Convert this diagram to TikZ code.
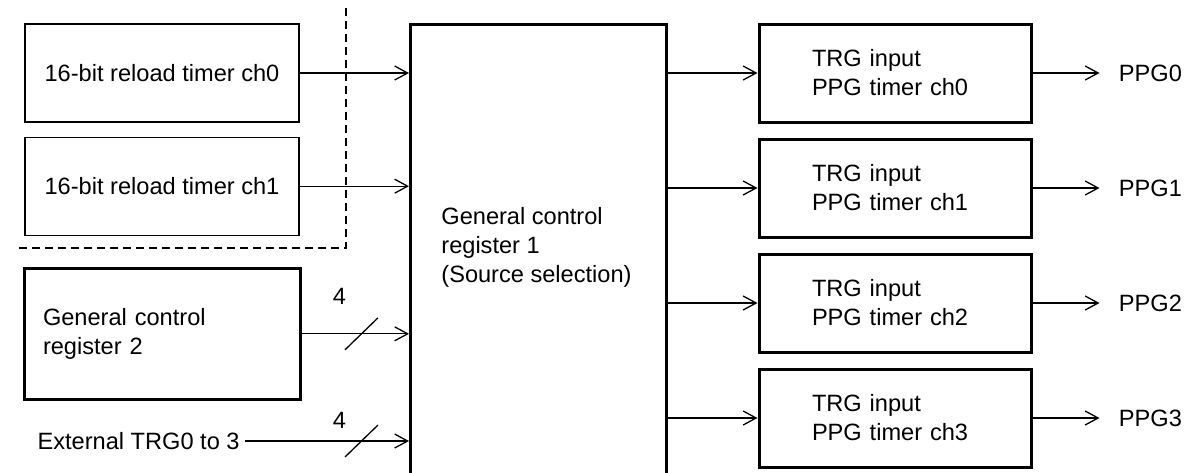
\documentclass[tikz,border=0pt]{standalone}
\usepackage{fontspec}
\setmainfont{Liberation Sans}
\usetikzlibrary{positioning, arrows.meta, calc}

\begin{document}
\begin{tikzpicture}[
    x=0.5pt, y=-0.5pt,
    >={Straight Barb[length=6.5pt, width=7pt]},
    every node/.style={font=\fontsize{11.8}{14.5}\selectfont},
    timer/.style={
      rectangle, draw, line width=0.6pt,
      minimum width=137pt, minimum height=49pt, inner sep=0pt
    },
    regbox/.style={
      rectangle, draw, line width=1.5pt, align=left
    },
    ppgbox/.style={
      rectangle, draw, line width=1.5pt, align=left,
      text width=83pt, inner xsep=26.5pt, minimum height=49pt
    },
    arr/.style={->, line width=0.65pt},
    bus/.style={line width=0.65pt},
    dashsep/.style={line width=0.65pt, dash pattern=on 4pt off 2.5pt},
  ]
  \useasboundingbox (0,0) rectangle (1190,472);

  % ============ LEFT: Sources ============
  \node[timer]                    (rt0) at (162,73) {16-bit reload timer ch0};
  \node[timer, below=7pt of rt0]  (rt1) {16-bit reload timer ch1};
  \node[regbox, text width=119pt, inner xsep=9.5pt, minimum height=65.5pt,
        below=15.5pt of rt1] (gcr2) {General control\\register 2};
  \node[anchor=east, inner xsep=2.5pt, inner ysep=0pt] (ext) at (245,441)
    {External TRG0 to 3};

  % ============ CENTER: General control register 1 ============
  \node[regbox, minimum width=128pt, minimum height=240pt, anchor=north west]
    (gcr1) at (409,23) {};
  \node[anchor=west, align=left, inner sep=0pt] (gcr1txt) at (441,247)
    {General control\\register 1\\(Source selection)};

  % ============ RIGHT: PPG timers ============
  \node[ppgbox]                  (tp0) at (895,73) {TRG input\\PPG timer ch0};
  \node[ppgbox, below=7pt of tp0] (tp1) {TRG input\\PPG timer ch1};
  \node[ppgbox, below=7pt of tp1] (tp2) {TRG input\\PPG timer ch2};
  \node[ppgbox, below=7pt of tp2] (tp3) {TRG input\\PPG timer ch3};

  % ============ Separator ============
  \draw[dashsep] (346,8) |- (18,248);

  % ============ Arrows ============
  % Timers -> register 1
  \draw[arr] (rt0.east) -- (rt0.east -| gcr1.west);
  \draw[arr] (rt1.east) -- (rt1.east -| gcr1.west);

  % 4-bit buses -> register 1
  \coordinate (busx) at (361.5,0);
  \draw[arr] (gcr2.east) -- (gcr2.east -| gcr1.west);
  \draw[bus] ($(gcr2.east -| busx)+(-16.5,16)$) -- ++(33,-32);
  \node (n2) at ($(gcr2.east -| busx)+(-22,-37.5)$) {4};

  \draw[arr] (ext.east) -- (ext.east -| gcr1.west);
  \draw[bus] ($(ext.east -| busx)+(-16.5,16)$) -- ++(33,-32);
  \node (ne) at ($(ext.east -| busx)+(-22,-21)$) {4};

  % Register 1 -> PPG timers -> outputs
  \foreach \i in {0,...,3} {
    \draw[arr] (tp\i.west -| gcr1.east) -- (tp\i.west);
    \node[anchor=west, inner xsep=9.5pt, inner ysep=0pt] (ppg\i)
      at ($(tp\i.east)+(67,0)$) {PPG\i};
    \draw[arr] (tp\i) -- (ppg\i);
  }

\end{tikzpicture}
\end{document}
